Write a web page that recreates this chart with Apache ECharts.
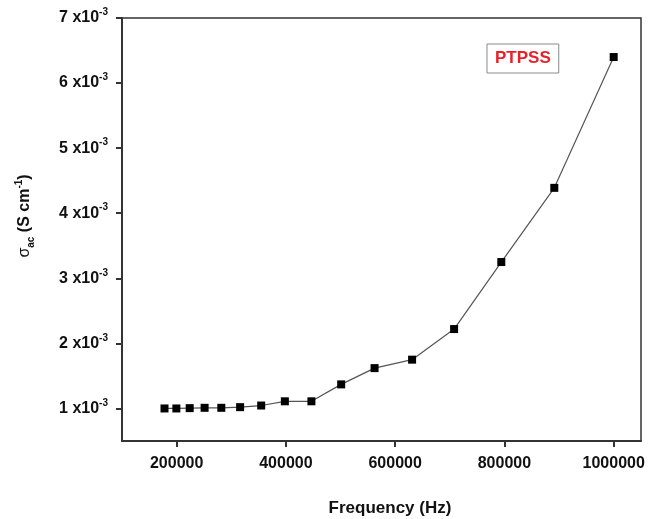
<!DOCTYPE html>
<html>
<head>
<meta charset="utf-8">
<script src="https://cdn.jsdelivr.net/npm/echarts@6/dist/echarts.min.js"></script>
<style>html,body{margin:0;padding:0;background:#fff}#c{width:648px;height:519px}</style>
</head>
<body>
<div id="c"></div>
<script>
const seriesName = 'PTPSS';
const frequency = [177800, 199500, 223900, 251200, 281800, 316200, 354800, 398100, 446700, 501200, 562300, 631000, 707900, 794300, 891300, 1000000];
const sigmaAc = [1.00e-3, 1.00e-3, 1.005e-3, 1.01e-3, 1.01e-3, 1.02e-3, 1.045e-3, 1.11e-3, 1.11e-3, 1.37e-3, 1.62e-3, 1.75e-3, 2.22e-3, 3.25e-3, 4.39e-3, 6.40e-3];
const xTicks = [200000, 400000, 600000, 800000, 1000000];
const yTicks = [1e-3, 2e-3, 3e-3, 4e-3, 5e-3, 6e-3, 7e-3];
const yTickMantissa = ['1', '2', '3', '4', '5', '6', '7'];

const FONT = '"Liberation Sans", Arial, sans-serif';
const chart = echarts.init(document.getElementById('c'), null, {renderer: 'canvas'});
chart.setOption({
  animation: false,
  backgroundColor: '#fff',
  grid: {left: 122, top: 18, right: 7, bottom: 78, show: true, borderColor: '#333', borderWidth: 1.5, backgroundColor: 'transparent'},
  legend: {
    data: [seriesName], left: 487, top: 44, icon: 'none', itemWidth: 0, itemHeight: 0,
    padding: [6, 8, 6, 3], borderColor: '#8a8a8a', borderWidth: 1,
    textStyle: {color: '#e62129', fontWeight: 'bold', fontSize: 17, fontFamily: FONT},
    selectedMode: false
  },
  xAxis: {
    type: 'value', min: 100000, max: 1050000,
    axisLine: {show: true, lineStyle: {color: '#333', width: 2}},
    axisTick: {show: true, customValues: xTicks, length: 6, inside: false, lineStyle: {color: '#333', width: 2}},
    axisLabel: {customValues: xTicks, margin: 15, color: '#111', fontWeight: 'bold', fontSize: 16, fontFamily: FONT, formatter: v => String(v)},
    splitLine: {show: false}
  },
  yAxis: {
    type: 'value', min: 0.5e-3, max: 7e-3,
    axisLine: {show: true, lineStyle: {color: '#333', width: 2}},
    axisTick: {show: true, customValues: yTicks, length: 6, inside: false, lineStyle: {color: '#333', width: 2}},
    axisLabel: {
      customValues: yTicks, margin: 14, color: '#111',
      formatter: v => {
        const i = yTicks.findIndex(t => Math.abs(t - v) < 1e-9);
        return '{a|' + yTickMantissa[i] + ' x10}{s|-3}';
      },
      rich: {
        a: {fontSize: 16, fontWeight: 'bold', color: '#111', fontFamily: FONT, lineHeight: 21},
        s: {fontSize: 10, fontWeight: 'bold', color: '#111', fontFamily: FONT, verticalAlign: 'top', lineHeight: 21}
      }
    },
    splitLine: {show: false}
  },
  graphic: [
    {type: 'text', x: 390, y: 508, style: {text: 'Frequency (Hz)', align: 'center', verticalAlign: 'middle', fill: '#111', font: 'bold 17px ' + FONT}},
    {type: 'text', x: 25, y: 216, rotation: Math.PI / 2, style: {
      text: '{g|σ}{sub|ac}{t| (S cm}{sup|-1}{t|)}', align: 'center', verticalAlign: 'middle',
      rich: {
        g: {fontSize: 16, fill: '#111', fontFamily: FONT, lineHeight: 22},
        sub: {fontSize: 10, fill: '#111', fontWeight: 'bold', fontFamily: FONT, verticalAlign: 'bottom', lineHeight: 22},
        t: {fontSize: 16, fill: '#111', fontWeight: 'bold', fontFamily: FONT, lineHeight: 22},
        sup: {fontSize: 10, fill: '#111', fontWeight: 'bold', fontFamily: FONT, verticalAlign: 'top', lineHeight: 22}
      }
    }}
  ],
  series: [{
    name: seriesName, type: 'line',
    data: frequency.map((f, i) => [f, sigmaAc[i]]),
    symbol: 'rect', symbolSize: 8,
    itemStyle: {color: '#000'},
    lineStyle: {color: '#555', width: 1.2}
  }]
});
</script>
</body>
</html>
